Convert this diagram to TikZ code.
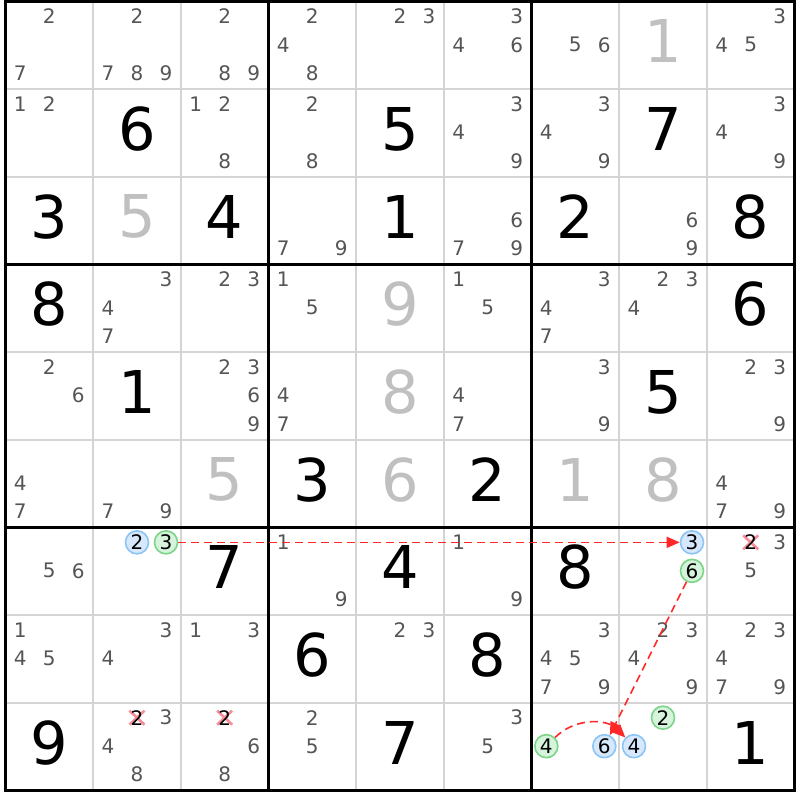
\documentclass[tikz,border=0pt]{standalone}
\usepackage{fontspec}
\setmainfont{DejaVu Sans}
\usetikzlibrary{arrows.meta}
\definecolor{candgray}{RGB}{85,85,85}
\definecolor{placedgray}{RGB}{192,192,192}
\definecolor{thingrid}{RGB}{212,212,212}
\definecolor{bluefill}{RGB}{214,232,252}
\definecolor{blueline}{RGB}{140,196,245}
\definecolor{greenfill}{RGB}{214,244,220}
\definecolor{greenline}{RGB}{124,212,136}
\definecolor{linkred}{RGB}{255,40,40}
\definecolor{crossred}{RGB}{245,140,150}
\tikzset{
 cand/.style={inner sep=0pt, text=candgray, font=\fontsize{20}{20}\selectfont},
 givendigit/.style={inner sep=0pt, text=black, font=\fontsize{59}{59}\selectfont},
 placeddigit/.style={givendigit, text=placedgray},
 bluecirc/.style={circle, draw=blueline, fill=bluefill, line width=1.6pt, minimum size=23pt, inner sep=0pt, text=black, font=\fontsize{20}{20}\selectfont},
 greencirc/.style={bluecirc, draw=greenline, fill=greenfill},
 link/.style={draw=linkred, line width=1.6pt, dash pattern=on 8pt off 5pt, -{Triangle[length=13pt,width=11pt,fill=linkred]}},
 crossline/.style={draw=crossred, line width=2.6pt},
 thinline/.style={draw=thingrid, line width=2pt},
 thickline/.style={draw=black, line width=3pt},
}
\newcommand\candpos[3]{%
  \pgfmathsetmacro\px{-38.333+87.667*#2+29*(mod(#3-1,3)-1)}%
  \pgfmathsetmacro\py{-42.333+87.667*#1+28.5*(int((#3-1)/3)-1)-0.5}%
}
\newcommand\putcands[3]{\foreach \d in {#3}{\candpos{#1}{#2}{\d}\node[cand] (k#1#2\d) at (\px,\py) {\d};}}
\newcommand\putgiven[3]{\pgfmathsetmacro\px{-38.333+87.667*#2}\pgfmathsetmacro\py{-42.333+87.667*#1-4}\node[givendigit] (v#1#2) at (\px,\py) {#3};}
\newcommand\putplaced[3]{\pgfmathsetmacro\px{-38.333+87.667*#2}\pgfmathsetmacro\py{-42.333+87.667*#1-4}\node[placeddigit] (v#1#2) at (\px,\py) {#3};}
\newcommand\putmark[4]{\candpos{#1}{#2}{#3}\node[#4] (k#1#2#3) at (\px,\py) {#3};}
\newcommand\putcross[3]{\candpos{#1}{#2}{#3}\draw[crossline] (\px-7.5,\py-7) -- (\px+7.5,\py+7) (\px-7.5,\py+7) -- (\px+7.5,\py-7);\node[cand,text=black] (k#1#2#3) at (\px,\py) {#3};}
\begin{document}
\begin{tikzpicture}[x=1pt,y=-1pt]
\useasboundingbox (0,0) rectangle (800,800);
\fill[white] (0,0) rectangle (800,800);
% grid
\foreach \i in {1,2,4,5,7,8}{
  \draw[thinline] (5.5+87.667*\i,1.5) -- (5.5+87.667*\i,790.5);
  \draw[thinline] (5.5,1.5+87.667*\i) -- (794.5,1.5+87.667*\i);
}
\foreach \i in {3,6}{
  \draw[thickline] (5.5+87.667*\i,1.5) -- (5.5+87.667*\i,790.5);
  \draw[thickline] (5.5,1.5+87.667*\i) -- (794.5,1.5+87.667*\i);
}
\draw[thickline] (5.5,1.5) rectangle (794.5,790.5);
% row 1
\putcands{1}{1}{2,7} \putcands{1}{2}{2,7,8,9} \putcands{1}{3}{2,8,9}
\putcands{1}{4}{2,4,8} \putcands{1}{5}{2,3} \putcands{1}{6}{3,4,6}
\putcands{1}{7}{5,6} \putplaced{1}{8}{1} \putcands{1}{9}{3,4,5}
% row 2
\putcands{2}{1}{1,2} \putgiven{2}{2}{6} \putcands{2}{3}{1,2,8}
\putcands{2}{4}{2,8} \putgiven{2}{5}{5} \putcands{2}{6}{3,4,9}
\putcands{2}{7}{3,4,9} \putgiven{2}{8}{7} \putcands{2}{9}{3,4,9}
% row 3
\putgiven{3}{1}{3} \putplaced{3}{2}{5} \putgiven{3}{3}{4}
\putcands{3}{4}{7,9} \putgiven{3}{5}{1} \putcands{3}{6}{6,7,9}
\putgiven{3}{7}{2} \putcands{3}{8}{6,9} \putgiven{3}{9}{8}
% row 4
\putgiven{4}{1}{8} \putcands{4}{2}{3,4,7} \putcands{4}{3}{2,3}
\putcands{4}{4}{1,5} \putplaced{4}{5}{9} \putcands{4}{6}{1,5}
\putcands{4}{7}{3,4,7} \putcands{4}{8}{2,3,4} \putgiven{4}{9}{6}
% row 5
\putcands{5}{1}{2,6} \putgiven{5}{2}{1} \putcands{5}{3}{2,3,6,9}
\putcands{5}{4}{4,7} \putplaced{5}{5}{8} \putcands{5}{6}{4,7}
\putcands{5}{7}{3,9} \putgiven{5}{8}{5} \putcands{5}{9}{2,3,9}
% row 6
\putcands{6}{1}{4,7} \putcands{6}{2}{7,9} \putplaced{6}{3}{5}
\putgiven{6}{4}{3} \putplaced{6}{5}{6} \putgiven{6}{6}{2}
\putplaced{6}{7}{1} \putplaced{6}{8}{8} \putcands{6}{9}{4,7,9}
% row 7
\putcands{7}{1}{5,6} \putmark{7}{2}{2}{bluecirc} \putmark{7}{2}{3}{greencirc}
\putgiven{7}{3}{7} \putcands{7}{4}{1,9} \putgiven{7}{5}{4} \putcands{7}{6}{1,9}
\putgiven{7}{7}{8} \putmark{7}{8}{3}{bluecirc} \putmark{7}{8}{6}{greencirc}
\putcross{7}{9}{2} \putcands{7}{9}{3,5}
% row 8
\putcands{8}{1}{1,4,5} \putcands{8}{2}{3,4} \putcands{8}{3}{1,3}
\putgiven{8}{4}{6} \putcands{8}{5}{2,3} \putgiven{8}{6}{8}
\putcands{8}{7}{3,4,5,7,9} \putcands{8}{8}{2,3,4,9} \putcands{8}{9}{2,3,4,7,9}
% row 9
\putgiven{9}{1}{9} \putcross{9}{2}{2} \putcands{9}{2}{3,4,8}
\putcross{9}{3}{2} \putcands{9}{3}{6,8}
\putcands{9}{4}{2,5} \putgiven{9}{5}{7} \putcands{9}{6}{3,5}
\putmark{9}{7}{4}{greencirc} \putmark{9}{7}{6}{bluecirc}
\putmark{9}{8}{2}{greencirc} \putmark{9}{8}{4}{bluecirc}
\putgiven{9}{9}{1}
% links
\draw[link] (k723) -- (k783);
\draw[link] (k786) -- (k976);
\draw[link] (k974) to[bend left=45] (k984);
\end{tikzpicture}
\end{document}
